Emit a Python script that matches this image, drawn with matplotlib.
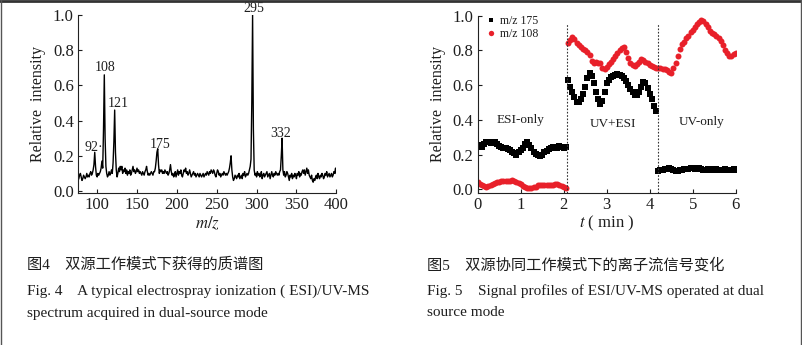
import numpy as np
import matplotlib
matplotlib.use("Agg")
import matplotlib.pyplot as plt
from matplotlib.lines import Line2D

plt.rcParams['font.family'] = ['Liberation Serif', 'DejaVu Serif']
plt.rcParams['mathtext.fontset'] = 'stix'

# ---------------- Fig. 4 data: mass spectrum (m/z 77..400, 1-unit step) ----------------
ms_start = 77
ms_rel = [
    # 77-96
    0.07, 0.09, 0.10, 0.08, 0.06, 0.07, 0.09, 0.08, 0.07, 0.08,
    0.10, 0.08, 0.09, 0.08, 0.10, 0.11, 0.09, 0.10, 0.12, 0.15,
    # 97-116
    0.22, 0.14, 0.09, 0.08, 0.10, 0.09, 0.10, 0.11, 0.13, 0.17,
    0.13, 0.35, 0.66, 0.30, 0.14, 0.10, 0.08, 0.09, 0.11, 0.09,
    # 117-136
    0.10, 0.12, 0.10, 0.16, 0.28, 0.46, 0.22, 0.12, 0.08, 0.10,
    0.13, 0.11, 0.14, 0.12, 0.14, 0.10, 0.12, 0.11, 0.13, 0.10,
    # 137-156
    0.12, 0.09, 0.11, 0.10, 0.12, 0.09, 0.10, 0.12, 0.14, 0.11,
    0.12, 0.10, 0.11, 0.13, 0.11, 0.12, 0.10, 0.11, 0.10, 0.09,
    # 157-176
    0.11, 0.10, 0.09, 0.11, 0.12, 0.14, 0.11, 0.09, 0.10, 0.09,
    0.10, 0.11, 0.10, 0.09, 0.11, 0.11, 0.13, 0.17, 0.22, 0.24,
    # 177-196
    0.15, 0.10, 0.12, 0.11, 0.12, 0.10, 0.11, 0.10, 0.12, 0.11,
    0.10, 0.11, 0.09, 0.10, 0.12, 0.15, 0.11, 0.09, 0.10, 0.08,
    # 197-216
    0.09, 0.11, 0.08, 0.10, 0.12, 0.09, 0.11, 0.10, 0.12, 0.09,
    0.08, 0.10, 0.12, 0.11, 0.13, 0.10, 0.11, 0.09, 0.10, 0.12,
    # 217-236
    0.10, 0.08, 0.09, 0.10, 0.11, 0.09, 0.10, 0.08, 0.09, 0.10,
    0.09, 0.08, 0.10, 0.09, 0.08, 0.09, 0.10, 0.08, 0.09, 0.10,
    # 237-256
    0.09, 0.11, 0.10, 0.09, 0.11, 0.10, 0.12, 0.11, 0.10, 0.12,
    0.11, 0.09, 0.08, 0.10, 0.12, 0.11, 0.09, 0.10, 0.08, 0.09,
    # 257-276
    0.10, 0.09, 0.11, 0.10, 0.09, 0.10, 0.09, 0.10, 0.11, 0.13,
    0.16, 0.20, 0.12, 0.08, 0.06, 0.07, 0.09, 0.08, 0.07, 0.09,
    # 277-296
    0.08, 0.10, 0.07, 0.08, 0.09, 0.07, 0.10, 0.09, 0.11, 0.08,
    0.09, 0.10, 0.09, 0.10, 0.12, 0.14, 0.18, 0.50, 1.00, 0.35,
    # 297-316
    0.12, 0.09, 0.10, 0.08, 0.11, 0.09, 0.10, 0.08, 0.09, 0.11,
    0.07, 0.09, 0.10, 0.08, 0.09, 0.10, 0.11, 0.08, 0.09, 0.10,
    # 317-336
    0.07, 0.09, 0.11, 0.09, 0.08, 0.10, 0.09, 0.11, 0.10, 0.09,
    0.10, 0.09, 0.11, 0.12, 0.20, 0.30, 0.12, 0.09, 0.11, 0.08,
    # 337-356
    0.09, 0.11, 0.10, 0.08, 0.06, 0.09, 0.08, 0.10, 0.07, 0.09,
    0.08, 0.10, 0.09, 0.07, 0.10, 0.09, 0.11, 0.08, 0.10, 0.09,
    # 357-376
    0.11, 0.12, 0.10, 0.12, 0.09, 0.11, 0.13, 0.10, 0.12, 0.09,
    0.08, 0.07, 0.09, 0.06, 0.05, 0.07, 0.06, 0.08, 0.09, 0.07,
    # 377-400
    0.10, 0.08, 0.07, 0.09, 0.08, 0.10, 0.09, 0.07, 0.08, 0.10,
    0.09, 0.11, 0.08, 0.09, 0.10, 0.08, 0.09, 0.10, 0.08, 0.09,
    0.11, 0.10, 0.13, 0.10,
]
ms_mz = np.arange(ms_start, ms_start + len(ms_rel))

peak_labels = ["92·", "108", "121", "175", "295", "332"]
peak_label_x = [95.5, 110.5, 126.5, 179.0, 296.5, 330.5]
peak_label_y = [0.245, 0.70, 0.495, 0.266, 1.035, 0.325]

# ---------------- Fig. 5 data: ion-current profiles ----------------
t_step = 0.05
i175 = [
    # 0.00-2.05 (ESI only)
    0.255, 0.25, 0.245, 0.26, 0.27, 0.27, 0.265, 0.27, 0.27, 0.26,
    0.25, 0.245, 0.24, 0.235, 0.23, 0.225, 0.215, 0.21, 0.20, 0.215,
    0.225, 0.24, 0.26, 0.27, 0.255, 0.235, 0.215, 0.205, 0.195, 0.19,
    0.20, 0.215, 0.22, 0.23, 0.24, 0.245, 0.235, 0.24, 0.25, 0.245,
    0.24, 0.245,
    # 2.10-4.15 (UV+ESI)
    0.63, 0.59, 0.56, 0.53, 0.505, 0.50, 0.52, 0.55, 0.59, 0.64,
    0.67, 0.65, 0.61, 0.56, 0.52, 0.49, 0.51, 0.56, 0.61, 0.63,
    0.645, 0.65, 0.66, 0.665, 0.66, 0.655, 0.64, 0.625, 0.60, 0.575,
    0.56, 0.545, 0.545, 0.56, 0.59, 0.62, 0.61, 0.585, 0.55, 0.52,
    0.48, 0.45,
    # 4.20-6.00 (UV only)
    0.105, 0.11, 0.11, 0.115, 0.115, 0.12, 0.115, 0.11, 0.105, 0.105,
    0.11, 0.11, 0.115, 0.115, 0.115, 0.12, 0.12, 0.115, 0.115, 0.12,
    0.115, 0.11, 0.11, 0.115, 0.115, 0.11, 0.11, 0.115, 0.11, 0.11,
    0.11, 0.115, 0.11, 0.11, 0.11, 0.115, 0.11,
]
i108 = [
    # 0.00-2.05
    0.044, 0.03, 0.022, 0.016, 0.015, 0.02, 0.026, 0.032, 0.038, 0.042,
    0.044, 0.046, 0.048, 0.05, 0.048, 0.05, 0.054, 0.05, 0.042, 0.035,
    0.028, 0.02, 0.01, 0.006, 0.006, 0.008, 0.01, 0.015, 0.022, 0.026,
    0.025, 0.027, 0.025, 0.022, 0.022, 0.025, 0.028, 0.032, 0.025, 0.018,
    0.012, 0.008,
    # 2.10-4.15
    0.84, 0.86, 0.875, 0.865, 0.845, 0.83, 0.82, 0.81, 0.80, 0.79,
    0.775, 0.74, 0.73, 0.735, 0.73, 0.725, 0.70, 0.69, 0.705, 0.72,
    0.735, 0.75, 0.765, 0.785, 0.805, 0.815, 0.82, 0.79, 0.755, 0.73,
    0.715, 0.71, 0.72, 0.735, 0.75, 0.745, 0.735, 0.725, 0.715, 0.71,
    0.705, 0.70,
    # 4.20-6.00
    0.70, 0.70, 0.695, 0.69, 0.685, 0.675, 0.67, 0.70, 0.73, 0.77,
    0.81, 0.835, 0.85, 0.87, 0.885, 0.905, 0.92, 0.935, 0.95, 0.965,
    0.975, 0.97, 0.955, 0.935, 0.91, 0.90, 0.895, 0.885, 0.87, 0.855,
    0.83, 0.805, 0.785, 0.77, 0.765, 0.78, 0.785,
]
t = np.arange(len(i175)) * t_step
mode_switch_t = [2.08, 4.2]
mode_labels = ["ESI-only", "UV+ESI", "UV-only"]
mode_label_x = [1.0, 3.15, 5.2]
mode_label_y = [0.40, 0.375, 0.39]
series_names = ["m/z 175", "m/z 108"]

# ---------------- Figure ----------------
W, H = 802, 345
fig = plt.figure(figsize=(W / 100, H / 100), dpi=100)
fig.patch.set_facecolor('white')
TXT = '#1e1e1e'


def style_axes(ax):
    for s in ['top', 'right']:
        ax.spines[s].set_visible(False)
    for s in ['left', 'bottom']:
        ax.spines[s].set_linewidth(0.8)
        ax.spines[s].set_color('#222222')
    ax.tick_params(direction='in', length=3, width=0.8, labelsize=12,
                   colors=TXT, pad=3)
    ax.set_yticks([0.0, 0.2, 0.4, 0.6, 0.8, 1.0])
    ax.set_yticklabels(["0.0", "0.2", "0.4", "0.6", "0.8", "1.0"])


# Fig. 4 axes
ax1 = fig.add_axes([78 / W, 1 - 193.3 / H, (336.3 - 78) / W, (193.3 - 15) / H])
ax1.plot(ms_mz, ms_rel, color='black', lw=1.0)
ax1.set_xlim(76, 400)
ax1.set_ylim(-0.013, 1.0)
ax1.set_xticks([100, 150, 200, 250, 300, 350, 400])
style_axes(ax1)
ax1.set_ylabel("Relative  intensity", fontsize=11.5, labelpad=5, color=TXT)
ax1.set_xlabel("$m/z$", fontsize=12, labelpad=1, color=TXT)
for lab, x, y in zip(peak_labels, peak_label_x, peak_label_y):
    ax1.text(x, y, lab, fontsize=10, ha='center', va='center', clip_on=False, color=TXT)

# Fig. 5 axes
ax2 = fig.add_axes([477.7 / W, 1 - 192.7 / H, (735.7 - 477.7) / W, (192.7 - 15.7) / H])
ax2.set_xlim(0, 6)
ax2.set_ylim(-0.02, 1.0)
ax2.set_xticks([0, 1, 2, 3, 4, 5, 6])
style_axes(ax2)
ax2.plot(t, i175, linestyle='none', marker='s', ms=3.8, color='black',
         markeredgewidth=0, label=series_names[0])
ax2.plot(t, i108, linestyle='none', marker='o', ms=4.3, color='#e8202a',
         markeredgewidth=0, label=series_names[1])
for xs in mode_switch_t:
    ax2.vlines(xs, -0.02, 0.96, colors='#333333', linestyles=(0, (1.5, 1.5)), lw=0.8)
for lab, x, y in zip(mode_labels, mode_label_x, mode_label_y):
    ax2.text(x, y, lab, fontsize=9.5, ha='center', va='center', color=TXT)
ax2.set_ylabel("Relative  intensity", fontsize=11.5, labelpad=5, color=TXT)
ax2.set_xlabel("$t$ ( min )", fontsize=12, labelpad=1, color=TXT)
leg = ax2.legend(loc='upper left', bbox_to_anchor=(0.0, 1.045), frameon=False,
                 fontsize=8.5, handletextpad=0.3, handlelength=1.0,
                 borderaxespad=0.2, labelspacing=0.1, markerscale=0.9)
for txt in leg.get_texts():
    txt.set_color(TXT)

# Captions
cjk = ['Liberation Serif', 'Noto Sans CJK SC']
fig.text(27 / W, 1 - 265 / H, "图4　双源工作模式下获得的质谱图", fontsize=11,
         family=cjk, va='center', ha='left', color=TXT)
fig.text(27 / W, 1 - 291 / H, "Fig. 4    A typical electrospray ionization ( ESI)/UV-MS",
         fontsize=11, va='center', ha='left', color=TXT)
fig.text(27 / W, 1 - 313 / H, "spectrum acquired in dual-source mode",
         fontsize=11, va='center', ha='left', color=TXT)
fig.text(427 / W, 1 - 265 / H, "图5　双源协同工作模式下的离子流信号变化", fontsize=11,
         family=cjk, va='center', ha='left', color=TXT)
fig.text(427 / W, 1 - 291 / H, "Fig. 5    Signal profiles of ESI/UV-MS operated at dual",
         fontsize=11, va='center', ha='left', color=TXT)
fig.text(427 / W, 1 - 313 / H, "source mode",
         fontsize=11, va='center', ha='left', color=TXT)

# Page border
fig.add_artist(Line2D([0, 1], [1 - 1 / H, 1 - 1 / H], transform=fig.transFigure,
                      color='#333333', lw=2.0))
fig.add_artist(Line2D([0.6 / W, 0.6 / W], [0, 1], transform=fig.transFigure,
                      color='#555555', lw=1.0))
fig.add_artist(Line2D([1 - 1.5 / W, 1 - 1.5 / W], [0, 1], transform=fig.transFigure,
                      color='#555555', lw=1.0))

fig.savefig("out.png", dpi=100, facecolor='white')
